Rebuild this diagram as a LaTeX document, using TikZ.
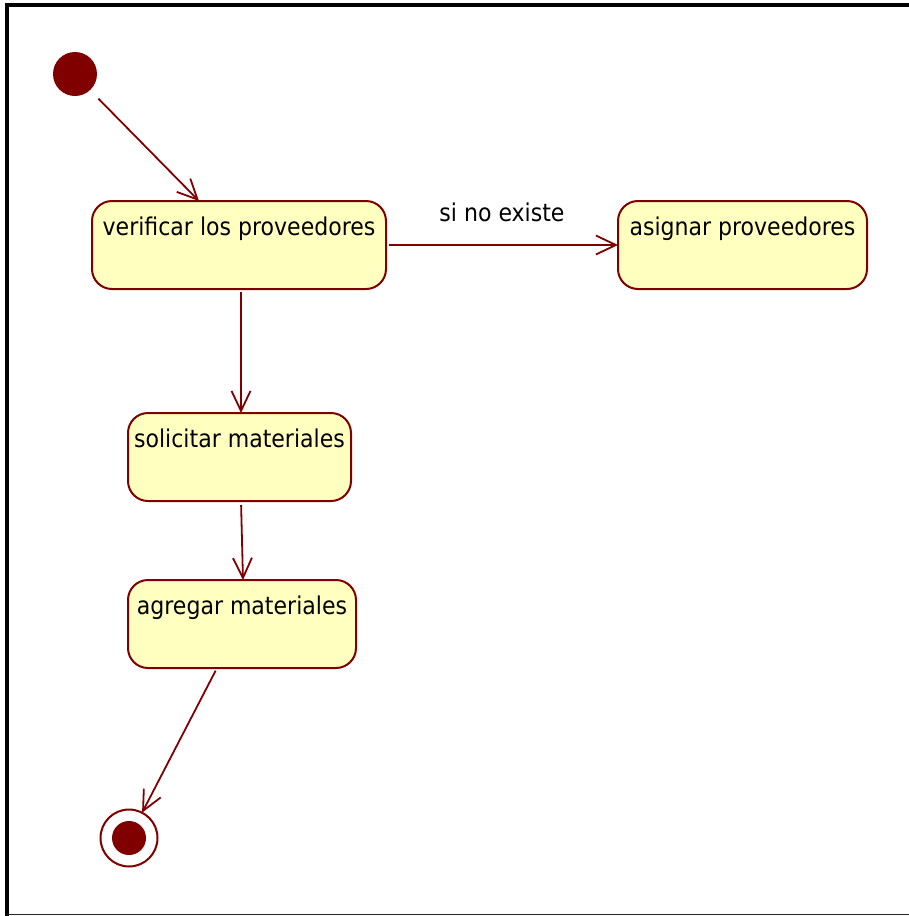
\documentclass[tikz,border=0pt]{standalone}
\usepackage{fontspec}
\setmainfont{DejaVu Sans Condensed}
\usetikzlibrary{arrows.meta}
\definecolor{umlred}{RGB}{128,0,0}
\definecolor{umlfill}{RGB}{255,255,192}
\tikzset{
  statebox/.style={draw=umlred, fill=umlfill, line width=2pt, rounded corners=20pt,
    inner sep=0pt, outer sep=0pt, minimum height=88pt, anchor=north west,
    text height=24pt, text depth=44pt, font=\fontsize{24.5}{28}\selectfont},
  trans/.style={draw=umlred, line width=1.8pt,
    -{Straight Barb[length=20pt,width=19pt,line width=1.8pt]}},
  initial/.style={circle, fill=umlred, minimum size=44pt, inner sep=0pt, outer sep=0pt},
  final/.style={circle, draw=umlred, line width=2pt, minimum size=57pt, inner sep=0pt, outer sep=0pt},
  finaldot/.style={circle, fill=umlred, minimum size=34pt, inner sep=0pt, outer sep=0pt},
  guard/.style={font=\fontsize{24.5}{28}\selectfont, anchor=base, inner sep=0pt}
}
\begin{document}
\begin{tikzpicture}[x=1pt, y=-1pt]
  \useasboundingbox (0,0) rectangle (909,916);
  % diagram frame
  \draw[line width=4pt, black] (6.5,916) -- (6.5,4.5) -- (909,4.5);
  \draw[line width=1.5pt, black!85] (6.5,914.5) -- (909,914.5);

  % pseudo states
  \node[initial] (start) at (75,74) {};
  \node[final] (end) at (129,838) {};
  \node[finaldot] (enddot) at (end.center) {};

  % states
  \node[statebox, minimum width=294pt] (verify) at (92,201) {verificar los proveedores};
  \node[statebox, minimum width=249pt] (assign) at (618,201) {asignar proveedores};
  \node[statebox, minimum width=223pt] (request) at (128,413) {solicitar materiales};
  \node[statebox, minimum width=228pt] (add) at (128,580) {agregar materiales};

  % transitions
  \draw[trans, shorten <=12pt] (start.-47) -- ([xshift=107pt]verify.north west);
  \draw[trans, shorten <=3pt] (verify.east) -- node[guard, midway, yshift=24pt] {si no existe} (assign.west);
  \draw[trans, shorten <=3pt] ([xshift=2pt]verify.south) -- ([xshift=1.5pt]request.north);
  \draw[trans, shorten <=4pt] ([xshift=1.5pt]request.south) -- ([xshift=1pt]add.north);
  \draw[trans, shorten <=3pt] ([xshift=-25pt]add.south) -- (end);
\end{tikzpicture}
\end{document}
